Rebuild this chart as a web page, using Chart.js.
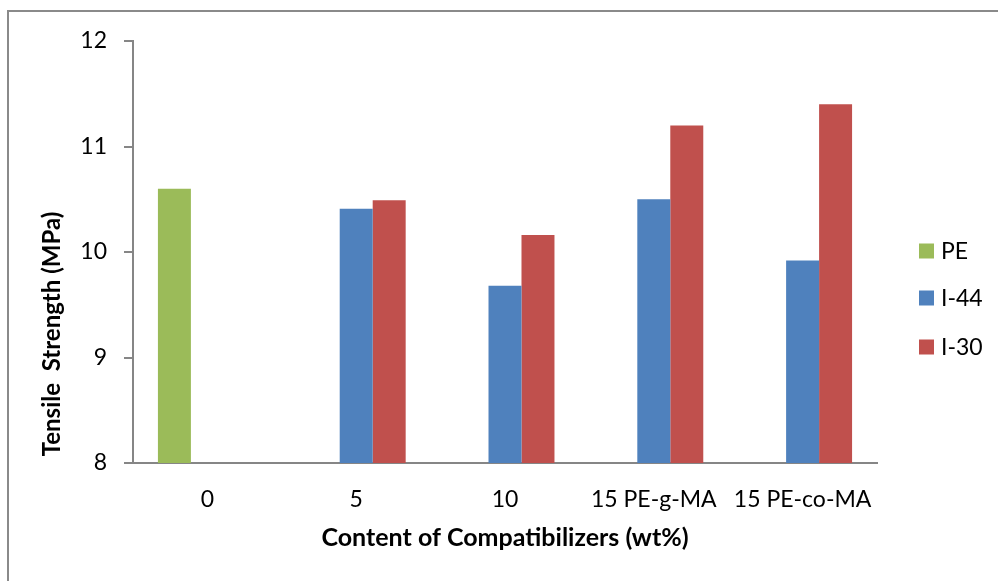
<!DOCTYPE html>
<html>
<head>
<meta charset="utf-8">
<script src="https://cdn.jsdelivr.net/npm/chart.js@4.4.0/dist/chart.umd.min.js"></script>
<style>
  html, body { margin: 0; padding: 0; background: #fff; overflow: hidden; }
  #wrap { width: 998px; height: 581px; position: relative; }
</style>
</head>
<body>
<div id="wrap"><canvas id="tensileChart" width="998" height="581"></canvas></div>
<script>
// data
const categories = ['0', '5', '10', '15 PE-g-MA', '15 PE-co-MA'];
const pe   = [10.6, null, null, null, null];
const i44  = [null, 10.41, 9.68, 10.5, 9.92];
const i30  = [null, 10.49, 10.16, 11.2, 11.4];
const yTicks = [8, 9, 10, 11, 12];

const FONT = 'Lato, "Open Sans", sans-serif';
const axisGrey = '#868686';

// frame, axis titles and legend drawn by hand so they sit where the original has them
const extras = {
  id: 'extras',
  beforeDraw(chart) {
    const c = chart.ctx;
    c.save();
    c.fillStyle = '#fff';
    c.fillRect(0, 0, chart.width, chart.height);
    c.strokeStyle = '#8a8a8a';
    c.lineWidth = 2;
    c.strokeRect(8, 11, 1200, 1200);
    c.restore();
  },
  afterDraw(chart) {
    const c = chart.ctx;
    c.save();
    c.fillStyle = '#000';
    c.font = 'bold 25px ' + FONT;
    c.textAlign = 'center';
    c.textBaseline = 'middle';
    c.fillText('Content of Compatibilizers (wt%)', 505, 538);

    c.font = 'bold 24px ' + FONT;
    c.translate(52, 334);
    c.rotate(-Math.PI / 2);
    c.fillText('Tensile  Strength (MPa)', 0, 0);
    c.restore();

    // legend
    const rows = [251, 298, 347];
    c.save();
    c.font = '23px ' + FONT;
    c.textAlign = 'left';
    c.textBaseline = 'middle';
    chart.data.datasets.forEach(function (ds, i) {
      c.fillStyle = ds.backgroundColor;
      c.fillRect(919, rows[i] - 7.5, 15, 15);
      c.fillStyle = '#000';
      c.fillText(ds.label, 941, rows[i] + 1);
    });
    c.restore();
  }
};

const ctx = document.getElementById('tensileChart');

new Chart(ctx, {
  type: 'bar',
  data: {
    labels: categories,
    datasets: [
      { label: 'PE',   data: pe,  backgroundColor: '#9BBB59' },
      { label: 'I-44', data: i44, backgroundColor: '#4F81BD' },
      { label: 'I-30', data: i30, backgroundColor: '#C0504D' }
    ]
  },
  options: {
    responsive: false,
    animation: false,
    devicePixelRatio: 1,
    categoryPercentage: 0.665,
    barPercentage: 1,
    layout: { padding: { top: 41, right: 121, left: 0, bottom: 0 } },
    plugins: {
      legend: { display: false },
      tooltip: { enabled: false }
    },
    scales: {
      x: {
        grid: { display: false, drawTicks: false },
        border: { display: true, color: axisGrey, width: 2 },
        ticks: { color: '#000', font: { family: FONT, size: 23 }, padding: 23, maxRotation: 0, autoSkip: false },
        afterFit: function (scale) { scale.height = 118; }
      },
      y: {
        min: 8,
        max: 12,
        afterBuildTicks: function (scale) { scale.ticks = yTicks.map(function (v) { return { value: v }; }); },
        grid: { drawOnChartArea: false, drawTicks: true, tickLength: 9, color: axisGrey, lineWidth: 2 },
        border: { display: true, color: axisGrey, width: 2 },
        ticks: { color: '#000', font: { family: FONT, size: 23 }, padding: 17 },
        afterFit: function (scale) { scale.width = 133; }
      }
    }
  },
  plugins: [extras]
});
</script>
</body>
</html>
